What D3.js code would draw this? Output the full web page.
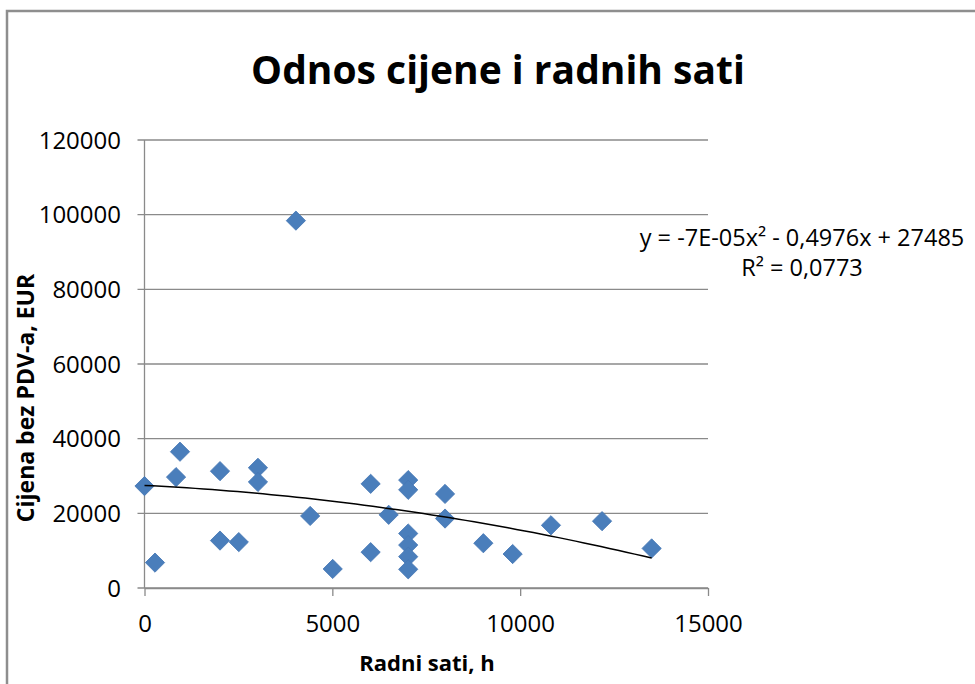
<!DOCTYPE html>
<html>
<head>
<meta charset="utf-8">
<script src="https://cdn.jsdelivr.net/npm/d3@7"></script>
<style>
  body { margin: 0; background: #fff; }
  text { font-family: "Open Sans", sans-serif; fill: #000; }
</style>
</head>
<body>
<div class="chart"></div>
<script>
// data
var hours  = [0, 280, 840, 945, 2010, 2010, 2510, 3020, 3020, 4030, 4410, 5010, 6020, 6020,
              6500, 7020, 7020, 7020, 7020, 7020, 7020, 8000, 8000, 9020, 9800, 10820, 12180, 13500]
var prices = [27300, 6800, 29700, 36500, 31300, 12700, 12300, 32200, 28400, 98400, 19300, 5100, 27900, 9600,
              19600, 28900, 26300, 14600, 11500, 8400, 5000, 25200, 18600, 12000, 9100, 16800, 17900, 10600]

var xTicks = [0, 5000, 10000, 15000]
var yTicks = [0, 20000, 40000, 60000, 80000, 100000, 120000]

// trendline printed on the chart: y = a*x^2 + b*x + c
var trendCoef = [-7e-5, -0.4976, 27485]
var eqLines = ["y = -7E-05x² - 0,4976x + 27485", "R² = 0,0773"]

var width = 975
    height = 684

var plot = { left: 144.5, right: 708, top: 140, bottom: 588 }

var svg = d3.select(".chart")
  .append("svg")
    .attr("width", width)
    .attr("height", height)

svg.append("rect")
  .attr("width", width).attr("height", height).attr("fill", "#fff")

// outer chart border (only top and left are in frame)
svg.append("path")
  .attr("d", "M7,700V11H990")
  .attr("fill", "none")
  .attr("stroke", "#8e8e8e")
  .attr("stroke-width", 2.5)

var x = d3.scaleLinear().domain([0, 15000]).range([plot.left, plot.right])
var y = d3.scaleLinear().domain([0, 120000]).range([plot.bottom, plot.top])

// horizontal gridlines
svg.append("g")
  .selectAll("line")
  .data(yTicks)
  .enter()
  .append("line")
    .attr("x1", plot.left - 7)
    .attr("x2", plot.right)
    .attr("y1", function(d) { return y(d) })
    .attr("y2", function(d) { return y(d) })
    .attr("stroke", "#8a8a8a")
    .attr("stroke-width", 1.3)

// y axis line
svg.append("line")
  .attr("x1", plot.left).attr("x2", plot.left)
  .attr("y1", plot.top).attr("y2", plot.bottom)
  .attr("stroke", "#8a8a8a").attr("stroke-width", 1.3)

// x axis
var xAxis = svg.append("g")
  .attr("transform", "translate(0," + plot.bottom + ")")
  .call(d3.axisBottom(x).tickValues(xTicks).tickSize(8).tickSizeOuter(0).tickFormat(d3.format("d")))
xAxis.select(".domain").attr("stroke", "#8a8a8a").attr("stroke-width", 1.3)
xAxis.selectAll(".tick line").attr("stroke", "#8a8a8a").attr("stroke-width", 1.3)
xAxis.selectAll(".tick text")
  .attr("y", 44).attr("dy", null)
  .style("font-family", "'Open Sans', sans-serif")
  .style("font-size", "24px")
  .attr("fill", "#000")

// y tick labels
svg.append("g")
  .selectAll("text")
  .data(yTicks)
  .enter()
  .append("text")
    .attr("x", 121)
    .attr("y", function(d) { return y(d) + 8.5 })
    .attr("text-anchor", "end")
    .style("font-size", "24px")
    .text(function(d) { return d })

// trendline
var xMin = d3.min(hours), xMax = d3.max(hours)
var trendX = d3.range(0, 61).map(function(i) { return xMin + (xMax - xMin) * i / 60 })
var line = d3.line()
  .x(function(d) { return x(d) })
  .y(function(d) { return y(trendCoef[0] * d * d + trendCoef[1] * d + trendCoef[2]) })

// points
var diamond = d3.symbol().type(d3.symbolSquare).size(185)
svg.append("g")
  .selectAll("path")
  .data(hours)
  .enter()
  .append("path")
    .attr("d", diamond)
    .attr("transform", function(d, i) { return "translate(" + x(d) + "," + y(prices[i]) + ") rotate(45)" })
    .attr("fill", "#4a7ebb")
    .attr("stroke", "#4677b5")
    .attr("stroke-width", 0.8)

svg.append("path")
  .datum(trendX)
  .attr("d", line)
  .attr("fill", "none")
  .attr("stroke", "#000")
  .attr("stroke-width", 1.5)

// equation label
svg.append("g")
  .selectAll("text")
  .data(eqLines)
  .enter()
  .append("text")
    .attr("x", 802)
    .attr("y", function(d, i) { return 246 + i * 30 })
    .attr("text-anchor", "middle")
    .style("font-size", "23.5px")
    .text(function(d) { return d })

// title
svg.append("text")
  .attr("x", 498)
  .attr("y", 84)
  .attr("text-anchor", "middle")
  .style("font-size", "39px")
  .style("font-weight", "bold")
  .text("Odnos cijene i radnih sati")

// axis titles
svg.append("text")
  .attr("x", 427)
  .attr("y", 671)
  .attr("text-anchor", "middle")
  .style("font-size", "22px")
  .style("font-weight", "bold")
  .text("Radni sati, h")

svg.append("text")
  .attr("transform", "translate(34,398) rotate(-90)")
  .attr("text-anchor", "middle")
  .style("font-size", "23px")
  .style("font-weight", "bold")
  .text("Cijena bez PDV-a, EUR")
</script>
</body>
</html>
